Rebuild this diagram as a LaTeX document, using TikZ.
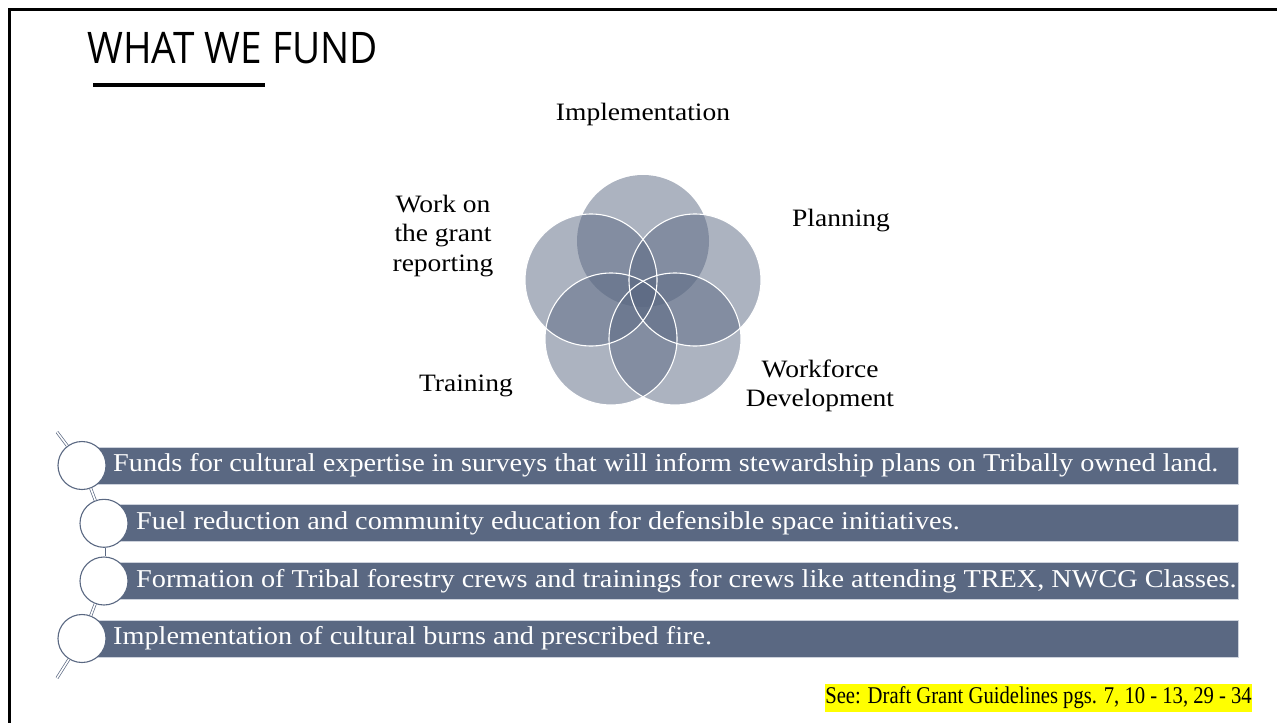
\documentclass[tikz,border=0pt]{standalone}
\usepackage{fontspec}
\newfontfamily\titlefont{Open Sans}[FakeStretch=0.89]
\newfontfamily\bodyserif{Liberation Serif}[FakeStretch=1.1]
\newfontfamily\noteserif{Liberation Serif}[FakeStretch=0.86]
\definecolor{slate}{RGB}{90,104,130}
\definecolor{barline}{RGB}{205,210,220}
\definecolor{hl}{RGB}{255,255,0}
\tikzset{
  vennc/.style={circle, minimum size=132pt, inner sep=0pt, fill=slate, fill opacity=0.5},
  vennline/.style={draw=white, line width=1.1pt},
  lbl/.style={font=\bodyserif\fontsize{25pt}{29.5pt}\selectfont, align=center, inner sep=0pt},
  barbox/.style={fill=slate, draw=barline, line width=0.8pt},
  bartext/.style={font=\bodyserif\fontsize{25.7pt}{30pt}\selectfont, text=white, anchor=west, inner sep=0pt},
  bead/.style={circle, minimum size=48pt, inner sep=0pt, fill=white, draw=slate, line width=1.1pt},
  conn/.style={draw=slate, double=white, double distance=1.6pt, line width=0.7pt},
}
\begin{document}
\begin{tikzpicture}[x=1pt,y=-1pt]
\useasboundingbox (0,0) rectangle (1277,723);
% frame
\draw[line width=2.6pt, black] (1277,9.5) -- (9.5,9.5) -- (9.5,723);
% title
\node[anchor=base west, inner sep=0pt, font=\titlefont\fontsize{43.5pt}{50pt}\selectfont] (title) at (87,63) {WHAT WE FUND};
\node[fill=black, minimum width=172pt, minimum height=4.5pt, inner sep=0pt, anchor=north west] (rule) at (93,82.5) {};
% venn
\node[vennc] (v1) at (643,241) {};
\node[vennc] (v2) at (695,280) {};
\node[vennc] (v3) at (675,339) {};
\node[vennc] (v4) at (611,339) {};
\node[vennc] (v5) at (591,280) {};
\draw[vennline] (v2.center) circle (66);
\draw[vennline] (v3.center) circle (66);
\draw[vennline] (v4.center) circle (66);
\draw[vennline] (v5.center) circle (66);
% labels
\node[lbl] (limpl) at (643,114) {Implementation};
\node[lbl] (lplan) at (841,221) {Planning};
\node[lbl] (lwork) at (820,386) {Workforce\\Development};
\node[lbl] (ltrain) at (466,386) {Training};
\node[lbl] (lgrant) at (443,236) {Work on\\the grant\\reporting};
% bars
\node[barbox, minimum height=37pt, minimum width=1156pt, anchor=west, inner sep=0pt] (b1) at (82,465.5) {};
\node[barbox, minimum height=37pt, minimum width=1134pt, anchor=west, inner sep=0pt] (b2) at (104,523.3) {};
\node[barbox, minimum height=37pt, minimum width=1134pt, anchor=west, inner sep=0pt] (b3) at (104,581) {};
\node[barbox, minimum height=37pt, minimum width=1156pt, anchor=west, inner sep=0pt] (b4) at (82,638.5) {};
\node[bartext] (t1) at (113,465.5) {Funds for cultural expertise in surveys that will inform stewardship plans on Tribally owned land.};
\node[bartext] (t2) at (136,523.3) {Fuel reduction and community education for defensible space initiatives.};
\node[bartext] (t3) at (136,581) {Formation of Tribal forestry crews and trainings for crews like attending TREX, NWCG Classes.};
\node[bartext] (t4) at (113,638.5) {Implementation of cultural burns and prescribed fire.};
% beads and connectors
\coordinate (top) at (57,432);
\coordinate (bot) at (57,678);
\node[bead] (c1) at (82,465.5) {};
\node[bead] (c2) at (104,523.3) {};
\node[bead] (c3) at (104,581) {};
\node[bead] (c4) at (82,638.5) {};
\draw[conn] (top) -- (c1);
\draw[conn] (c1) -- (c2);
\draw[conn] (c2) -- (c3);
\draw[conn] (c3) -- (c4);
\draw[conn] (c4) -- (bot);
% note
\node[anchor=east, fill=hl, inner xsep=0pt, text height=19pt, text depth=7pt, inner ysep=1pt, font=\noteserif\fontsize{24pt}{28pt}\selectfont] (note) at (1252,697.5) {See: Draft Grant Guidelines pgs. 7, 10 - 13, 29 - 34};
\end{tikzpicture}
\end{document}
